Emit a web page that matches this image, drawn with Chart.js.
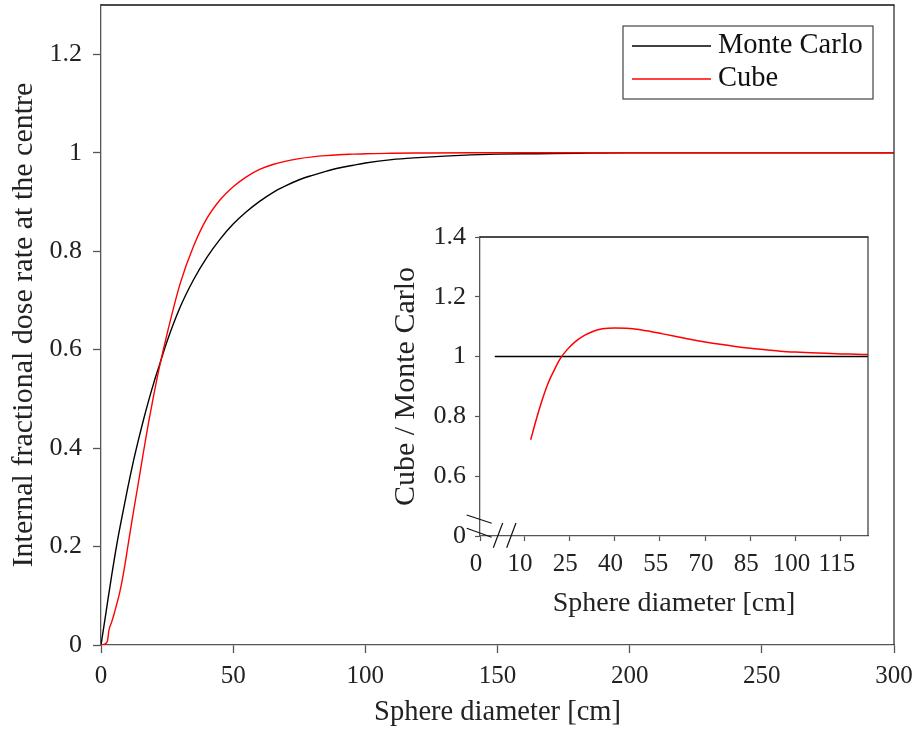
<!DOCTYPE html>
<html>
<head>
<meta charset="utf-8">
<script src="https://cdn.jsdelivr.net/npm/chart.js@4"></script>
<style>
  html, body { margin: 0; padding: 0; background: #fff; }
  #wrap { position: relative; width: 915px; height: 732px; }
  #main { position: absolute; left: 0; top: 0; }
  #inset { position: absolute; left: 378px; top: 217px; }
</style>
</head>
<body>
<div id="wrap">
  <canvas id="main" width="915" height="732"></canvas>
  <canvas id="inset" width="500" height="410"></canvas>
</div>
<script>
// ---- Main panel: internal fractional dose rate at the centre ----
const mcDiameter = [0, 2, 4, 6, 8, 10, 12, 14, 16, 18, 20, 22, 25, 30, 35, 40, 45, 50, 55, 60, 65, 70, 75, 80, 85, 90, 95, 100, 110, 120, 130, 140, 150, 165, 180, 200, 250, 300];
const mcDose     = [0, 0.07, 0.14, 0.205, 0.262, 0.316, 0.367, 0.413, 0.456, 0.496, 0.533, 0.567, 0.617, 0.687, 0.742, 0.787, 0.824, 0.855, 0.880, 0.901, 0.919, 0.933, 0.945, 0.954, 0.962, 0.969, 0.974, 0.979, 0.986, 0.990, 0.993, 0.9955, 0.997, 0.998, 0.999, 1, 1, 1];

const cubeDiameter = [0, 1, 2, 2.5, 3, 4, 5, 6, 7, 8, 9, 10, 12, 14, 16, 18, 20, 22, 25, 30, 35, 40, 45, 50, 55, 60, 65, 70, 75, 80, 85, 90, 95, 100, 110, 120, 140, 160, 200, 250, 300];
const cubeDose     = [0, 0.001, 0.004, 0.01, 0.03, 0.046, 0.064, 0.084, 0.105, 0.131, 0.161, 0.195, 0.262, 0.325, 0.39, 0.452, 0.509, 0.562, 0.632, 0.735, 0.81, 0.866, 0.904, 0.931, 0.951, 0.966, 0.976, 0.983, 0.988, 0.9915, 0.994, 0.9958, 0.997, 0.998, 0.9988, 0.9993, 1, 1, 1, 1, 1];

const mainXTicks = [0, 50, 100, 150, 200, 250, 300];
const mainYTicks = [0, 0.2, 0.4, 0.6, 0.8, 1, 1.2];

// ---- Inset: ratio Cube / Monte Carlo ----
const ratioDiameter = [12.2, 14, 16, 18, 20, 22, 24, 27, 30, 33, 36, 40, 44, 48, 52, 56, 60, 65, 70, 75, 80, 85, 90, 95, 100, 105, 110, 115, 120, 124];
const cubeToMc      = [0.722, 0.788, 0.855, 0.912, 0.955, 0.993, 1.02, 1.05, 1.071, 1.085, 1.093, 1.096, 1.095, 1.091, 1.084, 1.076, 1.068, 1.058, 1.049, 1.041, 1.034, 1.028, 1.023, 1.018, 1.015, 1.013, 1.011, 1.009, 1.008, 1.007];
const unityDiameter = [0.3, 124];
const unityRatio    = [1, 1];

const insetXTicks = [10, 25, 40, 55, 70, 85, 100, 115];
const insetYTicks = [0.6, 0.8, 1, 1.2, 1.4];
const breakLabel = '0';

const legendOrder = [0, 1];

const SERIF = "'Liberation Serif', 'Times New Roman', serif";
const AXIS = '#555';
const TEXT = '#222';

const pts = (xs, ys) => xs.map((x, i) => ({ x, y: ys[i] }));
const fmt = v => String(Math.round(v * 10) / 10);
const noPad = s => { s.paddingLeft = 0; s.paddingRight = 0; s.paddingTop = 0; s.paddingBottom = 0; };

// Top and right frame lines around the plotting area
const framePlugin = {
  id: 'frame',
  afterDatasetsDraw(chart, args, o) {
    const { ctx, chartArea: a } = chart;
    ctx.save();
    ctx.lineWidth = 1.3;
    ctx.strokeStyle = o.topColor;
    ctx.beginPath(); ctx.moveTo(a.left, a.top); ctx.lineTo(a.right + 0.6, a.top); ctx.stroke();
    ctx.strokeStyle = o.rightColor;
    ctx.beginPath(); ctx.moveTo(a.right, a.top); ctx.lineTo(a.right, a.bottom); ctx.stroke();
    ctx.restore();
  }
};

// Boxed legend in the upper right corner of the plotting area
const boxedLegend = {
  id: 'boxedLegend',
  afterDraw(chart, args, o) {
    const { ctx, chartArea: a } = chart;
    const x0 = a.right - o.offsetRight - o.width;
    const y0 = a.top + o.offsetTop;
    ctx.save();
    ctx.fillStyle = '#fff';
    ctx.fillRect(x0, y0, o.width, o.height);
    ctx.strokeStyle = '#444';
    ctx.lineWidth = 1.2;
    ctx.strokeRect(x0, y0, o.width, o.height);
    ctx.font = o.font;
    ctx.textBaseline = 'middle';
    ctx.textAlign = 'left';
    legendOrder.forEach((idx, i) => {
      const ds = chart.data.datasets[idx];
      const y = y0 + o.firstRow + i * o.rowGap;
      ctx.strokeStyle = ds.borderColor;
      ctx.lineWidth = 1.3;
      ctx.beginPath(); ctx.moveTo(x0 + 9, y); ctx.lineTo(x0 + 88, y); ctx.stroke();
      ctx.fillStyle = '#111';
      ctx.fillText(ds.label, x0 + 95, y);
    });
    ctx.restore();
  }
};

// Double-slash marks showing the broken axes of the inset
const axisBreaks = {
  id: 'axisBreaks',
  afterDraw(chart) {
    const { ctx, chartArea: a } = chart;
    ctx.save();
    ctx.strokeStyle = '#111';
    ctx.lineWidth = 1.2;
    [[13.3, 22.7], [26.7, 36]].forEach(([x1, x2]) => {
      ctx.beginPath(); ctx.moveTo(a.left + x1, a.bottom + 11.7); ctx.lineTo(a.left + x2, a.bottom - 13); ctx.stroke();
    });
    [[-21, -12.7], [-7.7, 1.3]].forEach(([y1, y2]) => {
      ctx.beginPath(); ctx.moveTo(a.left - 13.3, a.bottom + y1); ctx.lineTo(a.left + 11.7, a.bottom + y2); ctx.stroke();
    });
    ctx.restore();
  }
};

new Chart(document.getElementById('main'), {
  type: 'line',
  data: {
    datasets: [
      { label: 'Monte Carlo', data: pts(mcDiameter, mcDose), borderColor: '#000000', borderWidth: 1.4,
        pointRadius: 0, cubicInterpolationMode: 'monotone', fill: false, order: 1 },
      { label: 'Cube', data: pts(cubeDiameter, cubeDose), borderColor: '#ff0000', borderWidth: 1.4,
        pointRadius: 0, cubicInterpolationMode: 'monotone', fill: false, order: 0 }
    ]
  },
  options: {
    responsive: false,
    animation: false,
    devicePixelRatio: 1,
    layout: { padding: { left: 0, top: 5, right: 21, bottom: 0 } },
    plugins: {
      legend: { display: false },
      tooltip: { enabled: false },
      frame: { topColor: '#111', rightColor: '#333' },
      boxedLegend: { width: 250, height: 73, offsetRight: 21, offsetTop: 21, firstRow: 20, rowGap: 33,
                     font: "28.5px 'Liberation Serif', 'Times New Roman', serif" }
    },
    scales: {
      x: {
        type: 'linear', min: 0, max: 300,
        afterBuildTicks: s => { s.ticks = mainXTicks.map(v => ({ value: v })); },
        afterFit: s => { s.height = 87; noPad(s); },
        grid: { drawOnChartArea: false, tickLength: 8, tickColor: AXIS, tickWidth: 1.3 },
        border: { color: AXIS, width: 1.3 },
        ticks: { font: { family: SERIF, size: 25 }, color: TEXT, padding: 8, maxRotation: 0, callback: fmt },
        title: { display: true, text: 'Sphere diameter [cm]', font: { family: SERIF, size: 28.5 }, color: TEXT,
                 padding: { top: 0, bottom: 2 } }
      },
      y: {
        type: 'linear', min: 0, max: 1.3,
        afterBuildTicks: s => { s.ticks = mainYTicks.map(v => ({ value: v })); },
        afterFit: s => { s.width = 101; noPad(s); },
        grid: { drawOnChartArea: false, tickLength: 8, tickColor: AXIS, tickWidth: 1.3 },
        border: { color: AXIS, width: 1.3 },
        ticks: { font: { family: SERIF, size: 26 }, color: TEXT, padding: 11, callback: fmt },
        title: { display: true, text: 'Internal fractional dose rate at the centre', font: { family: SERIF, size: 30 },
                 color: TEXT, padding: { top: 6, bottom: 0 } }
      }
    }
  },
  plugins: [framePlugin, boxedLegend]
});

const insetXMin = -4.6, insetXMax = 124;
const insetYMin = 0.4, insetYMax = 1.4;

new Chart(document.getElementById('inset'), {
  type: 'line',
  data: {
    datasets: [
      { label: 'Monte Carlo', data: pts(unityDiameter, unityRatio), borderColor: '#000000', borderWidth: 1.5,
        pointRadius: 0, fill: false, order: 1 },
      { label: 'Cube / Monte Carlo', data: pts(ratioDiameter, cubeToMc), borderColor: '#ff0000', borderWidth: 1.5,
        pointRadius: 0, cubicInterpolationMode: 'monotone', fill: false, order: 0 }
    ]
  },
  options: {
    responsive: false,
    animation: false,
    devicePixelRatio: 1,
    layout: { padding: { left: 0, top: 20, right: 10, bottom: 0 } },
    plugins: {
      legend: { display: false },
      tooltip: { enabled: false },
      frame: { topColor: '#111', rightColor: '#444' }
    },
    scales: {
      x: {
        type: 'linear', min: insetXMin, max: insetXMax,
        afterBuildTicks: s => { s.ticks = [{ value: insetXMin }].concat(insetXTicks.map(v => ({ value: v }))); },
        afterFit: s => { s.height = 91; noPad(s); },
        grid: { drawOnChartArea: false, tickLength: 5, tickColor: AXIS, tickWidth: 1.2 },
        border: { color: AXIS, width: 1.3 },
        ticks: { font: { family: SERIF, size: 25 }, color: TEXT, padding: 8, maxRotation: 0, autoSkip: false,
                 labelOffset: -4,
                 callback: v => (v === insetXMin ? breakLabel : fmt(v)) },
        title: { display: true, text: 'Sphere diameter [cm]', font: { family: SERIF, size: 28 }, color: TEXT,
                 padding: { top: 0, bottom: 7 } }
      },
      y: {
        type: 'linear', min: insetYMin, max: insetYMax,
        afterBuildTicks: s => { s.ticks = [{ value: insetYMin }].concat(insetYTicks.map(v => ({ value: v }))); },
        afterFit: s => { s.width = 102; noPad(s); },
        grid: { drawOnChartArea: false, tickLength: 5, tickColor: AXIS, tickWidth: 1.2 },
        border: { color: AXIS, width: 1.3 },
        ticks: { font: { family: SERIF, size: 26 }, color: TEXT, padding: 9, autoSkip: false,
                 callback: v => (v === insetYMin ? breakLabel : fmt(v)) },
        title: { display: true, text: 'Cube / Monte Carlo', font: { family: SERIF, size: 30 }, color: TEXT,
                 padding: { top: 10, bottom: 0 } }
      }
    }
  },
  plugins: [framePlugin, axisBreaks]
});
</script>
</body>
</html>
